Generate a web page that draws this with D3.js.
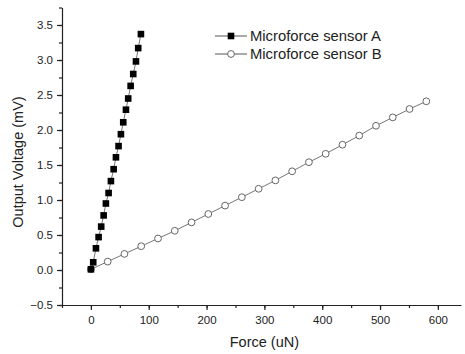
<!DOCTYPE html>
<html lang="en">
<head>
  <meta charset="UTF-8" />
  <title>Microforce sensors</title>
  <script src="https://d3js.org/d3.v7.min.js"></script>
  <style>
    body {
      margin: 0;
      overflow: hidden;
      background: #fff;
    }
    text {
      font-family: "Liberation Sans", Arial, sans-serif;
      fill: #222;
    }
    .axis path, .axis line {
      stroke: #222;
      stroke-width: 1.2px;
    }
  </style>
</head>
<body>
<svg width="465" height="354"></svg>
<script>
// sensor A (filled squares)
const forceA = [0, 4, 8.7, 13.3, 17.8, 22, 25.9, 30.6, 34.6, 39.3, 43.3, 47.8, 51.9, 55.9, 60.6, 64.5, 68.7, 73.2, 77.9, 81.8, 86.5];
const voltA = [0.01, 0.11, 0.31, 0.47, 0.62, 0.78, 0.95, 1.10, 1.27, 1.44, 1.61, 1.77, 1.94, 2.11, 2.29, 2.45, 2.63, 2.80, 2.98, 3.17, 3.37];
// sensor B (open circles)
const forceB = [0, 29, 58, 87, 116, 145, 174, 203, 232, 261, 290, 319, 348, 377, 406, 435, 464, 493, 522, 551, 580];
const voltB = [0.01, 0.12, 0.23, 0.34, 0.45, 0.56, 0.68, 0.80, 0.92, 1.04, 1.16, 1.28, 1.41, 1.54, 1.66, 1.79, 1.92, 2.06, 2.18, 2.30, 2.41];

const xTicks = [0, 100, 200, 300, 400, 500, 600];
const yTicks = [-0.5, 0.0, 0.5, 1.0, 1.5, 2.0, 2.5, 3.0, 3.5];
const seriesNames = ["Microforce sensor A", "Microforce sensor B"];

const svg = d3.select("svg");
const x = d3.scaleLinear().domain([-50, 640]).range([62, 461]);
const y = d3.scaleLinear().domain([-0.5, 3.75]).range([305, 7.5]);

// minor ticks
svg.append("g")
  .attr("class", "axis")
  .attr("transform", "translate(0,305)")
  .call(d3.axisBottom(x).tickValues(d3.range(-50, 641, 50)).tickSize(3).tickFormat(""))
  .call(g => g.select(".domain").remove());
svg.append("g")
  .attr("class", "axis")
  .attr("transform", "translate(62,0)")
  .call(d3.axisLeft(y).tickValues(d3.range(-0.5, 3.76, 0.25)).tickSize(3).tickFormat(""))
  .call(g => g.select(".domain").remove());

// major axes
svg.append("g")
  .attr("class", "axis")
  .attr("transform", "translate(0,305)")
  .call(d3.axisBottom(x).tickValues(xTicks).tickSize(5).tickSizeOuter(0).tickPadding(6))
  .call(g => g.selectAll("text").attr("font-size", 11.5).style("fill", "#222"));
svg.append("g")
  .attr("class", "axis")
  .attr("transform", "translate(62,0)")
  .call(d3.axisLeft(y).tickValues(yTicks).tickSize(5).tickSizeOuter(0).tickPadding(4).tickFormat(d3.format(".1f")))
  .call(g => g.selectAll("text").attr("font-size", 11.5).style("fill", "#222"));

svg.append("text")
  .attr("x", x(300)).attr("y", 347)
  .attr("text-anchor", "middle")
  .attr("font-size", 14.5)
  .text("Force (uN)");
svg.append("text")
  .attr("transform", "translate(23,162) rotate(-90)")
  .attr("text-anchor", "middle")
  .attr("font-size", 14.5)
  .text("Output Voltage (mV)");

const line = d3.line().x(d => x(d[0])).y(d => y(d[1]));
const dataA = forceA.map((f, i) => [f, voltA[i]]);
const dataB = forceB.map((f, i) => [f, voltB[i]]);

// series B
svg.append("path")
  .datum(dataB)
  .attr("d", line)
  .attr("fill", "none")
  .attr("stroke", "#777")
  .attr("stroke-width", 1);
svg.selectAll(".ptB")
  .data(dataB)
  .enter()
  .append("circle")
  .attr("class", "ptB")
  .attr("cx", d => x(d[0]))
  .attr("cy", d => y(d[1]))
  .attr("r", 3.4)
  .attr("fill", "#fff")
  .attr("stroke", "#666")
  .attr("stroke-width", 1);

// series A
svg.append("path")
  .datum(dataA)
  .attr("d", line)
  .attr("fill", "none")
  .attr("stroke", "#777")
  .attr("stroke-width", 1);
svg.selectAll(".ptA")
  .data(dataA)
  .enter()
  .append("rect")
  .attr("class", "ptA")
  .attr("x", d => x(d[0]) - 3.3)
  .attr("y", d => y(d[1]) - 3.3)
  .attr("width", 6.6)
  .attr("height", 6.6)
  .attr("fill", "#000");

// legend
const legend = svg.append("g").attr("transform", "translate(215,36)");
seriesNames.forEach((name, i) => {
  const row = legend.append("g").attr("transform", "translate(0," + (i * 18) + ")");
  row.append("line")
    .attr("x1", 0).attr("x2", 32)
    .attr("stroke", "#555").attr("stroke-width", 1);
  if (i === 0) {
    row.append("rect").attr("x", 12.7).attr("y", -3.3).attr("width", 6.6).attr("height", 6.6).attr("fill", "#000");
  } else {
    row.append("circle").attr("cx", 16).attr("r", 3.4).attr("fill", "#fff").attr("stroke", "#666");
  }
  row.append("text")
    .attr("x", 35).attr("y", 5)
    .attr("font-size", 14.8)
    .text(name);
});
</script>
</body>
</html>
